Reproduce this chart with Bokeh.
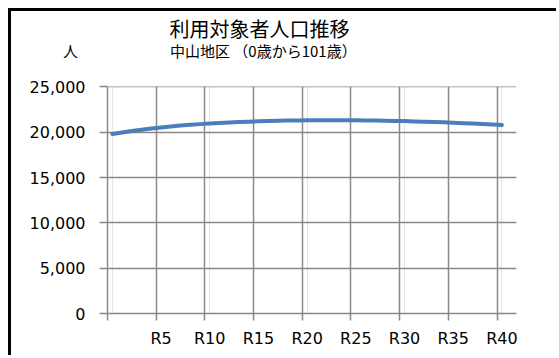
from bokeh.plotting import figure
from bokeh.models import Range1d, FixedTicker, LinearAxis, NumeralTickFormatter, Label, Grid, ColumnDataSource
from bokeh.embed import file_html
from bokeh.resources import INLINE

# ---- data ----
title_text = "利用対象者人口推移"
subtitle_text = "中山地区 （0歳から101歳）"
unit_text = "人"
years = list(range(0, 41))  # category index (R0 .. R40)
population = [19800, 19970, 20128, 20273, 20405, 20525, 20633, 20729, 20814, 20890,
              20958, 21019, 21074, 21123, 21165, 21201, 21231, 21256, 21276, 21292,
              21304, 21312, 21317, 21319, 21317, 21311, 21301, 21287, 21269, 21247,
              21221, 21191, 21158, 21122, 21083, 21041, 20997, 20951, 20903, 20853,
              20801]
label_years = [5, 10, 15, 20, 25, 30, 35, 40]
tick_labels = ["R5", "R10", "R15", "R20", "R25", "R30", "R35", "R40"]
y_ticks = [0, 5000, 10000, 15000, 20000, 25000]

GRID = "#888888"
FONT = "DejaVu Sans"
JP = "Noto Sans CJK JP"

p = figure(width=548, height=347, output_backend="svg", toolbar_location=None,
           x_range=Range1d(-0.5, 41.5), y_range=Range1d(0, 25040),
           x_axis_location=None, y_axis_location="left",
           min_border_left=96, min_border_right=43, min_border_top=75, min_border_bottom=45,
           background_fill_color="white", border_fill_color="white",
           styles={"margin-left": "8px", "margin-top": "8px",
                   "border-left": "3px solid black", "border-top": "3px solid black"})
p.outline_line_color = None
p.ygrid.grid_line_color = None

# y axis
ya = p.yaxis[0]
ya.ticker = FixedTicker(ticks=y_ticks)
ya.formatter = NumeralTickFormatter(format="0,0")
ya.major_tick_out = 8
ya.major_tick_in = 0
ya.minor_tick_line_color = None
ya.major_tick_line_color = GRID
ya.major_tick_line_width = 1.5
ya.axis_line_color = GRID
ya.axis_line_width = 1.5
ya.major_label_standoff = 14
ya.major_label_text_font = FONT
ya.major_label_text_font_size = "16px"
ya.major_label_text_color = "black"

# grids
boundary_ticks = [b - 0.5 for b in [0] + label_years]
p.add_layout(Grid(dimension=0, ticker=FixedTicker(ticks=boundary_ticks[1:]),
                  grid_line_color=GRID, grid_line_width=1.5))
p.add_layout(Grid(dimension=1, ticker=FixedTicker(ticks=y_ticks),
                  grid_line_color=GRID, grid_line_width=1.5))

# x axis: tick marks at category boundaries
xa1 = LinearAxis(ticker=FixedTicker(ticks=boundary_ticks),
                 major_label_overrides={t: "" for t in boundary_ticks},
                 major_label_text_font_size="0px", major_label_standoff=0,
                 major_tick_out=7, major_tick_in=0, minor_tick_line_color=None,
                 major_tick_line_color=GRID, major_tick_line_width=1.5,
                 axis_line_color=GRID, axis_line_width=1.5)
p.add_layout(xa1, "below")
# x axis: labels at category centres
xa2 = LinearAxis(ticker=FixedTicker(ticks=label_years),
                 major_label_overrides={y: t for y, t in zip(label_years, tick_labels)},
                 major_tick_line_color=None, minor_tick_line_color=None,
                 axis_line_color=None, major_label_standoff=2,
                 major_label_text_font=FONT, major_label_text_font_size="16px",
                 major_label_text_color="black")
p.add_layout(xa2, "below")

src = ColumnDataSource(dict(x=years, y=population))
p.line("x", "y", source=src, line_color="#4a7ebb", line_width=4, line_cap="round", line_join="round")

# titles (placed in side panels so they are not clipped to the frame)
p.add_layout(Label(x=15.1, y=31400, text=title_text, text_align="center", text_baseline="middle",
                   text_font=JP, text_font_size="20px", text_color="black"), "above")
p.add_layout(Label(x=15.5, y=29000, text=subtitle_text, text_align="center", text_baseline="middle",
                   text_font=JP, text_font_size="15px", text_color="black"), "above")
p.add_layout(Label(x=-4.3, y=29000, text=unit_text, text_align="center", text_baseline="middle",
                   text_font=JP, text_font_size="15px", text_color="black"), "left")

open("out.html", "w").write(file_html(p, INLINE))
